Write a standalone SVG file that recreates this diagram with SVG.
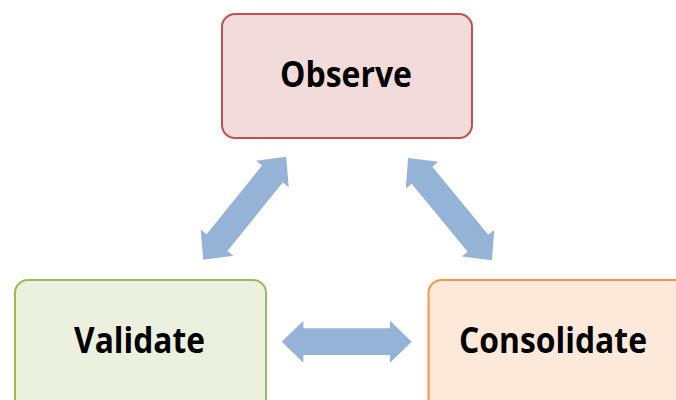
<svg xmlns="http://www.w3.org/2000/svg" width="676" height="400" viewBox="0 0 676 400">
<style>
.lbl{font-family:"Open Sans","Liberation Sans",sans-serif;font-weight:bold;font-size:36px;fill:#000;text-anchor:middle}
.box{stroke-width:2}
.arr{fill:#95B3D7}
</style>
<defs>
<polygon id="dbl" points="-65,0 -43.3,-21 -43.3,-13.4 43.3,-13.4 43.3,-21 65,0 43.3,21 43.3,13.4 -43.3,13.4 -43.3,21"/>
</defs>
<rect width="676" height="400" fill="#fff"/>
<g id="connectors" class="arr">
<use href="#dbl" transform="translate(346.7,341.7)"/>
<use href="#dbl" transform="translate(244.7,208.3) rotate(-51.1) scale(1.017,1)"/>
<use href="#dbl" transform="translate(450,209.2) rotate(50.6) scale(1.017,1)"/>
</g>
<g id="observe">
<rect class="box" x="222" y="14" width="250" height="124" rx="13" fill="#F2DCDB" stroke="#C0504D"/>
<text class="lbl" x="346" y="87" textLength="132" lengthAdjust="spacingAndGlyphs">Observe</text>
</g>
<g id="validate">
<rect class="box" x="15" y="280" width="251" height="135" rx="13" fill="#EBF1DE" stroke="#9BBB59"/>
<text class="lbl" x="139.5" y="352.5" textLength="131" lengthAdjust="spacingAndGlyphs">Validate</text>
</g>
<g id="consolidate">
<rect class="box" x="428.5" y="280" width="260" height="135" rx="13" fill="#FDE9D9" stroke="#F79646"/>
<text class="lbl" x="553" y="352.5" textLength="188" lengthAdjust="spacingAndGlyphs">Consolidate</text>
</g>
</svg>
